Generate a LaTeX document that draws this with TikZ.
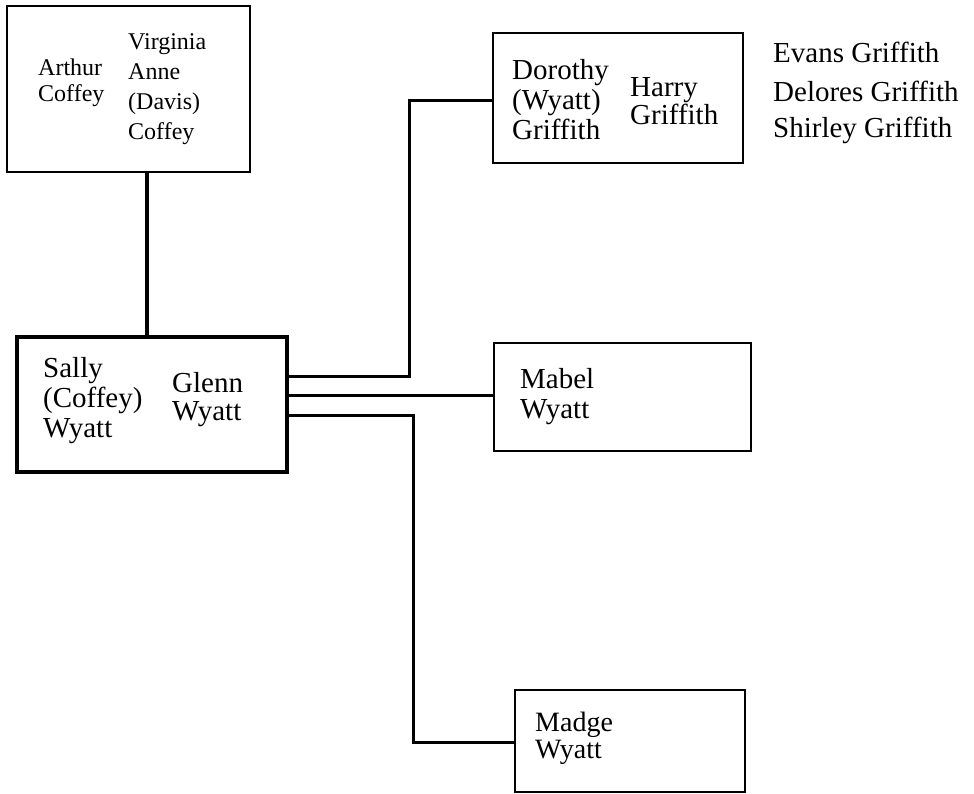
\documentclass[tikz,border=0pt]{standalone}
\usepackage{fontspec}
\setmainfont{Liberation Serif}
\begin{document}
\begin{tikzpicture}[x=1pt,y=-1pt,
  box/.style={draw=black,line width=2.6pt,inner sep=0pt},
  thickbox/.style={draw=black,line width=4.2pt,inner sep=0pt},
  conn/.style={draw=black,line width=3pt},
  vconn/.style={draw=black,line width=3.8pt},
  txt/.style={anchor=base west,inner sep=0pt,font=\fontsize{29}{30}\selectfont},
  tight/.style={anchor=base west,inner sep=0pt,font=\fontsize{28}{28}\selectfont},
  small/.style={anchor=base west,inner sep=0pt,font=\fontsize{24}{28}\selectfont}]
\useasboundingbox (0,0) rectangle (974,794);
% boxes
\node[box,minimum width=243pt,minimum height=166pt] (top) at (128.5,89) {};
\node[box,minimum width=250pt,minimum height=130pt] (dorothy) at (618,98) {};
\node[thickbox,minimum width=270pt,minimum height=135pt] (sally) at (152,404.5) {};
\node[box,minimum width=257pt,minimum height=108pt] (mabel) at (622.5,397) {};
\node[box,minimum width=230pt,minimum height=102pt] (madge) at (630,741) {};
% texts
\node[small] (t1) at (38,76) {Arthur};
\node[small] (t2) at (38,102) {Coffey};
\node[small] (t3) at (128,50) {Virginia};
\node[small] (t4) at (128,80) {Anne};
\node[small] (t5) at (128,110) {(Davis)};
\node[small] (t6) at (128,140) {Coffey};
\node[txt] (d1) at (512,80) {Dorothy};
\node[txt] (d2) at (512,110) {(Wyatt)};
\node[txt] (d3) at (512,140) {Griffith};
\node[txt] (h1) at (630,97) {Harry};
\node[txt] (h2) at (630,125) {Griffith};
\node[txt] (e1) at (773,63) {Evans Griffith};
\node[txt] (e2) at (773,102) {Delores Griffith};
\node[txt] (e3) at (773,138) {Shirley Griffith};
\node[txt] (s1) at (43,377) {Sally};
\node[txt] (s2) at (43,407) {(Coffey)};
\node[txt] (s3) at (43,437) {Wyatt};
\node[txt] (g1) at (172,392) {Glenn};
\node[txt] (g2) at (172,420) {Wyatt};
\node[txt] (m1) at (520,388) {Mabel};
\node[txt] (m2) at (520,418) {Wyatt};
\node[tight] (k1) at (535,731) {Madge};
\node[tight] (k2) at (535,758) {Wyatt};
% connector coordinates
\coordinate (vx) at (147,0);
\coordinate (ya) at (0,376);
\coordinate (yb) at (0,395);
\coordinate (yc) at (0,415);
\coordinate (yd) at (0,101);
\coordinate (ye) at (0,742);
\coordinate (xa) at (409,0);
\coordinate (xb) at (413,0);
% connectors
\draw[vconn] (top.south -| vx) -- (sally.north -| vx);
\draw[conn] (sally.east |- ya) -- (xa |- ya) -- (xa |- yd) -- (dorothy.west |- yd);
\draw[conn] (sally.east |- yb) -- (mabel.west |- yb);
\draw[conn] (sally.east |- yc) -- (xb |- yc) -- (xb |- ye) -- (madge.west |- ye);
\end{tikzpicture}
\end{document}
